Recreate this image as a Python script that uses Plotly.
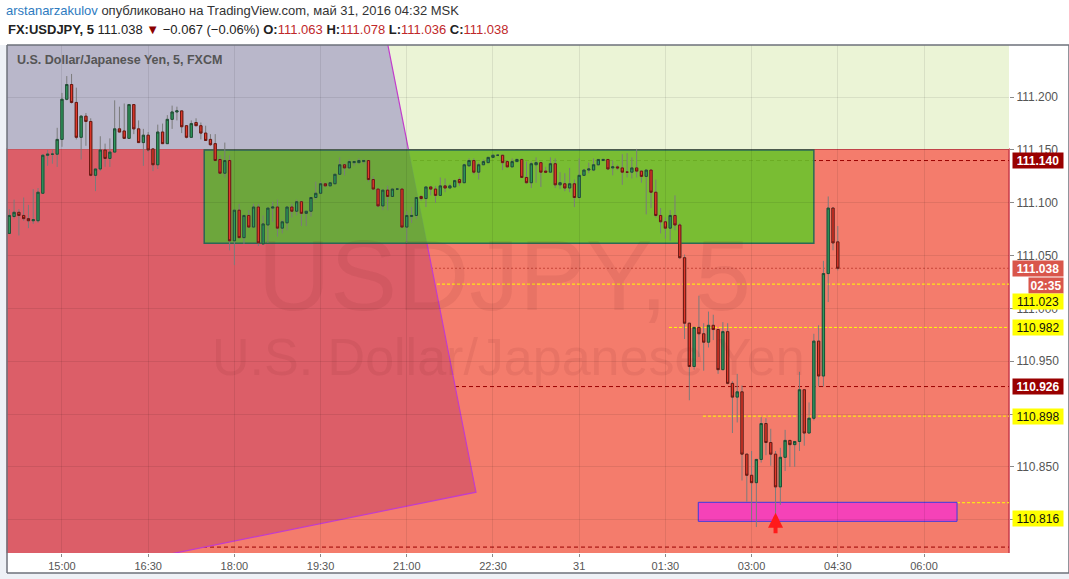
import plotly.graph_objects as go
import pandas as pd

# 5-minute bars, FX:USDJPY, 30 May 14:05 -> 31 May 04:30 (MSK)
start = pd.Timestamp("2016-05-30 14:05")
bar_minutes = 5

open_ = [111.071, 111.087, 111.091, 111.088, 111.085, 111.083, 111.083, 111.109, 111.145, 111.146,
         111.146, 111.160, 111.198, 111.212, 111.195, 111.162, 111.182, 111.177, 111.126, 111.132,
         111.150, 111.142, 111.148, 111.170, 111.168, 111.161, 111.193, 111.170, 111.157, 111.164,
         111.151, 111.136, 111.167, 111.156, 111.179, 111.186, 111.187, 111.173, 111.162, 111.176,
         111.173, 111.166, 111.160, 111.156, 111.141, 111.128, 111.140, 111.064, 111.093, 111.067,
         111.088, 111.077, 111.096, 111.061, 111.079, 111.095, 111.096, 111.076, 111.081, 111.096,
         111.092, 111.101, 111.090, 111.092, 111.105, 111.109, 111.118, 111.116, 111.118, 111.127,
         111.136, 111.133, 111.138, 111.138, 111.139, 111.140, 111.122, 111.113, 111.097, 111.112,
         111.106, 111.113, 111.113, 111.077, 111.087, 111.088, 111.106, 111.104, 111.115, 111.113,
         111.107, 111.116, 111.114, 111.115, 111.122, 111.119, 111.135, 111.140, 111.129, 111.136,
         111.138, 111.143, 111.145, 111.145, 111.139, 111.134, 111.139, 111.141, 111.124, 111.119,
         111.136, 111.138, 111.130, 111.129, 111.137, 111.117, 111.118, 111.114, 111.118, 111.105,
         111.126, 111.131, 111.131, 111.136, 111.140, 111.141, 111.133, 111.134, 111.133, 111.129,
         111.129, 111.133, 111.130, 111.125, 111.131, 111.110, 111.088, 111.082, 111.076, 111.088,
         111.079, 111.048, 110.986, 110.945, 110.982, 110.976, 110.968, 110.984, 110.980, 110.942,
         110.978, 110.929, 110.916, 110.921, 110.862, 110.842, 110.835, 110.857, 110.891, 110.873,
         110.862, 110.831, 110.859, 110.875, 110.871, 110.874, 110.923, 110.882, 110.896, 110.969,
         110.936, 111.033, 111.095, 111.063]
high = [111.094, 111.103, 111.094, 111.105, 111.098, 111.113, 111.114, 111.146, 111.150, 111.150,
        111.171, 111.204, 111.220, 111.222, 111.209, 111.183, 111.185, 111.180, 111.132, 111.163,
        111.156, 111.161, 111.197, 111.191, 111.194, 111.193, 111.193, 111.178, 111.170, 111.167,
        111.151, 111.174, 111.175, 111.183, 111.192, 111.191, 111.187, 111.173, 111.178, 111.180,
        111.176, 111.173, 111.165, 111.165, 111.145, 111.157, 111.145, 111.093, 111.099, 111.088,
        111.093, 111.099, 111.099, 111.088, 111.095, 111.101, 111.103, 111.084, 111.096, 111.099,
        111.103, 111.101, 111.092, 111.105, 111.120, 111.120, 111.119, 111.120, 111.127, 111.143,
        111.137, 111.141, 111.140, 111.142, 111.141, 111.140, 111.125, 111.113, 111.112, 111.116,
        111.113, 111.113, 111.113, 111.092, 111.096, 111.105, 111.107, 111.115, 111.116, 111.116,
        111.124, 111.123, 111.118, 111.122, 111.124, 111.137, 111.142, 111.142, 111.138, 111.141,
        111.143, 111.146, 111.146, 111.145, 111.140, 111.142, 111.142, 111.142, 111.139, 111.139,
        111.143, 111.138, 111.134, 111.143, 111.142, 111.129, 111.128, 111.133, 111.122, 111.142,
        111.132, 111.138, 111.142, 111.141, 111.142, 111.141, 111.140, 111.136, 111.146, 111.147,
        111.143, 111.151, 111.130, 111.131, 111.131, 111.122, 111.095, 111.086, 111.093, 111.107,
        111.081, 111.051, 110.986, 110.982, 111.012, 110.986, 110.997, 110.994, 110.980, 110.987,
        110.986, 110.931, 110.938, 110.927, 110.862, 110.865, 110.857, 110.897, 110.896, 110.886,
        110.865, 110.868, 110.885, 110.875, 110.874, 110.940, 110.923, 110.911, 110.976, 110.984,
        111.045, 111.106, 111.096, 111.078]
low = [111.071, 111.085, 111.069, 111.083, 111.076, 111.080, 111.081, 111.109, 111.135, 111.137,
       111.134, 111.153, 111.197, 111.194, 111.160, 111.141, 111.154, 111.125, 111.111, 111.130,
       111.134, 111.134, 111.148, 111.167, 111.161, 111.161, 111.165, 111.157, 111.135, 111.148,
       111.130, 111.132, 111.156, 111.156, 111.170, 111.178, 111.166, 111.161, 111.162, 111.173,
       111.160, 111.159, 111.154, 111.140, 111.128, 111.124, 111.055, 111.041, 111.067, 111.061,
       111.077, 111.077, 111.059, 111.061, 111.062, 111.082, 111.068, 111.071, 111.074, 111.086,
       111.088, 111.078, 111.078, 111.087, 111.103, 111.109, 111.115, 111.116, 111.118, 111.127,
       111.126, 111.133, 111.135, 111.137, 111.137, 111.120, 111.112, 111.096, 111.093, 111.093,
       111.106, 111.112, 111.077, 111.062, 111.081, 111.085, 111.102, 111.096, 111.107, 111.100,
       111.107, 111.110, 111.114, 111.115, 111.116, 111.119, 111.134, 111.127, 111.122, 111.136,
       111.138, 111.143, 111.144, 111.131, 111.134, 111.134, 111.139, 111.124, 111.118, 111.114,
       111.119, 111.115, 111.128, 111.129, 111.114, 111.113, 111.111, 111.110, 111.096, 111.104,
       111.126, 111.128, 111.130, 111.135, 111.140, 111.131, 111.126, 111.131, 111.117, 111.124,
       111.123, 111.124, 111.119, 111.089, 111.095, 111.086, 111.071, 111.066, 111.064, 111.074,
       111.047, 110.971, 110.913, 110.942, 110.954, 110.941, 110.963, 110.970, 110.938, 110.942,
       110.928, 110.882, 110.892, 110.837, 110.817, 110.799, 110.793, 110.854, 110.861, 110.851,
       110.800, 110.814, 110.846, 110.850, 110.850, 110.865, 110.870, 110.882, 110.894, 110.926,
       110.926, 111.006, 111.055, 111.036]
close = [111.088, 111.091, 111.088, 111.085, 111.083, 111.084, 111.110, 111.145, 111.146, 111.146,
         111.160, 111.198, 111.212, 111.195, 111.162, 111.182, 111.177, 111.126, 111.132, 111.150,
         111.142, 111.148, 111.170, 111.167, 111.161, 111.193, 111.170, 111.157, 111.164, 111.150,
         111.136, 111.167, 111.156, 111.179, 111.186, 111.187, 111.172, 111.162, 111.175, 111.173,
         111.166, 111.159, 111.155, 111.140, 111.128, 111.140, 111.064, 111.093, 111.067, 111.088,
         111.077, 111.096, 111.062, 111.080, 111.095, 111.096, 111.076, 111.082, 111.096, 111.092,
         111.101, 111.090, 111.092, 111.105, 111.109, 111.118, 111.116, 111.119, 111.127, 111.136,
         111.133, 111.139, 111.139, 111.140, 111.140, 111.122, 111.113, 111.097, 111.112, 111.106,
         111.113, 111.113, 111.077, 111.088, 111.088, 111.105, 111.104, 111.115, 111.113, 111.107,
         111.116, 111.114, 111.116, 111.121, 111.119, 111.136, 111.140, 111.129, 111.136, 111.139,
         111.143, 111.145, 111.145, 111.138, 111.134, 111.139, 111.141, 111.124, 111.119, 111.137,
         111.138, 111.129, 111.129, 111.137, 111.117, 111.119, 111.114, 111.118, 111.105, 111.126,
         111.131, 111.132, 111.136, 111.141, 111.141, 111.132, 111.134, 111.133, 111.129, 111.129,
         111.133, 111.130, 111.125, 111.131, 111.110, 111.088, 111.082, 111.076, 111.088, 111.079,
         111.048, 110.986, 110.945, 110.982, 110.976, 110.968, 110.984, 110.980, 110.942, 110.978,
         110.929, 110.916, 110.921, 110.862, 110.842, 110.835, 110.857, 110.891, 110.873, 110.862,
         110.831, 110.859, 110.875, 110.871, 110.874, 110.923, 110.882, 110.896, 110.969, 110.936,
         111.033, 111.095, 111.062, 111.038]

# horizontal levels drawn on the chart
red_levels = [111.140, 110.926, 110.774]
yellow_levels = [111.023, 110.982, 110.898, 110.816]
last_price = 111.038
countdown = "02:35"

n = len(close)
x = list(range(n))

# x ticks every 90 minutes
tick_idx = list(range(11, 200, 18))
tick_txt = []
for k in tick_idx:
    t = start + pd.Timedelta(minutes=bar_minutes * k)
    tick_txt.append("31" if (t.hour == 0 and t.minute == 0) else t.strftime("%H:%M"))

y_ticks = [round(110.80 + 0.05 * i, 2) for i in range(9)]

XR = [-0.48, 208.75]
YR = [110.7684, 111.2494]
SPLIT = 111.151

fig = go.Figure()

# wicks (grey)
fig.add_trace(go.Candlestick(
    x=x, open=open_, high=high, low=low, close=close,
    increasing=dict(line=dict(color="#7b7b7b", width=1), fillcolor="#7b7b7b"),
    decreasing=dict(line=dict(color="#7b7b7b", width=1), fillcolor="#7b7b7b"),
    whiskerwidth=0, hoverinfo="skip", showlegend=False,
))
# bodies with dark borders
body_hi = [max(o, c) for o, c in zip(open_, close)]
body_lo = [min(o, c) for o, c in zip(open_, close)]
fig.add_trace(go.Candlestick(
    x=x, open=open_, high=body_hi, low=body_lo, close=close,
    increasing=dict(line=dict(color="#1f4d34", width=1), fillcolor="#2f9a5d"),
    decreasing=dict(line=dict(color="#6b1710", width=1), fillcolor="#e2392b"),
    whiskerwidth=0, showlegend=False,
))

# ---- drawings ----
p_top = (77.2, 111.292)
p_mid = (97.45, 110.826)
p_bot = (-5.0, 110.732)


def xd(p):
    return p_top[0] + (p_mid[0] - p_top[0]) * (p_top[1] - p) / (p_top[1] - p_mid[1])


def path(pts):
    return "M " + " L ".join(f"{a},{b}" for a, b in pts) + " Z"


green_box = (40.7, 168.0, 111.0616, 111.150)
pink_box = (143.87, 197.9, 110.7984, 110.8164)

shapes = []
# background zones
shapes.append(dict(type="rect", xref="paper", yref="y", x0=0, x1=1, y0=YR[0] - 0.1, y1=SPLIT,
                   fillcolor="#f47c6c", line=dict(color="#c83a48", width=1.5), layer="below"))
shapes.append(dict(type="rect", xref="paper", yref="y", x0=0, x1=1, y0=SPLIT, y1=YR[1] + 0.1,
                   fillcolor="#ebf4d6", line=dict(width=0), layer="below"))
# left polygon, split at the zone boundary
shapes.append(dict(type="path", xref="x", yref="y", layer="below",
                   path=path([(-5, p_top[1]), p_top, (xd(SPLIT), SPLIT), (-5, SPLIT)]),
                   fillcolor="#b9b7ca", line=dict(width=0)))
shapes.append(dict(type="path", xref="x", yref="y", layer="below",
                   path=path([(-5, SPLIT), (xd(SPLIT), SPLIT), p_mid, p_bot]),
                   fillcolor="#dc5e68", line=dict(width=0)))
shapes.append(dict(type="path", xref="x", yref="y", layer="below",
                   path="M {},{} L {},{} L {},{}".format(p_top[0], p_top[1], p_mid[0], p_mid[1], p_bot[0], p_bot[1]),
                   line=dict(color="#c23ccc", width=1.2)))

# horizontal levels
for v in red_levels:
    shapes.append(dict(type="line", xref="paper", yref="y", x0=0, x1=1, y0=v, y1=v, layer="below",
                       line=dict(color="#9a0000", width=1, dash="4px,3px")))
shapes.append(dict(type="line", xref="paper", yref="y", x0=0, x1=1, y0=last_price, y1=last_price,
                   layer="below", line=dict(color="#c8453a", width=1, dash="2px,2px")))
y_starts = [None, 137.75, 144.85, pink_box[1]]
for v, s in zip(yellow_levels, y_starts):
    if s is None:
        shapes.append(dict(type="line", xref="paper", yref="y", x0=0, x1=1, y0=v, y1=v, layer="below",
                           line=dict(color="#ffff00", width=1, dash="3px,2px")))
    else:
        shapes.append(dict(type="line", xref="x", yref="y", x0=s, x1=XR[1] + 5, y0=v, y1=v, layer="below",
                           line=dict(color="#ffff00", width=1, dash="3px,2px")))

# green range box (semi-transparent)
shapes.append(dict(type="rect", xref="x", yref="y", layer="below",
                   x0=green_box[0], x1=green_box[1], y0=green_box[2], y1=green_box[3],
                   fillcolor="rgba(100,200,42,0.86)", line=dict(color="#2a6b55", width=1.5)))
shapes.append(dict(type="path", xref="x", yref="y", layer="below",
                   path=path([(green_box[0], green_box[3]), (xd(green_box[3]), green_box[3]),
                              (xd(green_box[2]), green_box[2]), (green_box[0], green_box[2])]),
                   fillcolor="rgba(60,40,120,0.13)", line=dict(width=0)))
# pink target box
shapes.append(dict(type="rect", xref="x", yref="y", layer="below",
                   x0=pink_box[0], x1=pink_box[1], y0=pink_box[2], y1=pink_box[3],
                   fillcolor="#f542b8", line=dict(color="#3b3be0", width=1)))

# outer page strips and chart frame (paper coords)
fx0, fx1 = -7 / 1002, 1062 / 1002
fy0 = -20 / 508
shapes.append(dict(type="rect", xref="paper", yref="paper", x0=-8 / 1002, x1=-0.5 / 1002, y0=-27 / 508, y1=1,
                   fillcolor="#eef1f6", line=dict(width=0), layer="above"))
shapes.append(dict(type="rect", xref="paper", yref="paper", x0=-8 / 1002, x1=1.07, y0=-27 / 508, y1=fy0,
                   fillcolor="#eef1f6", line=dict(width=0), layer="above"))
for seg in [(0, fy0, fx1, fy0), (0, 1, fx1, 1), (0, fy0, 0, 1), (fx1, fy0, fx1, 1)]:
    shapes.append(dict(type="line", xref="paper", yref="paper", x0=seg[0], y0=seg[1], x1=seg[2], y1=seg[3],
                       line=dict(color="#6d707a", width=1.5), layer="above"))

ann = []
# watermark
ann.append(dict(xref="paper", yref="paper", x=0.497, y=0.548, text="USDJPY, 5", showarrow=False,
                font=dict(family="Liberation Sans, Arial", size=100, color="rgba(110,30,30,0.09)")))
ann.append(dict(xref="paper", yref="paper", x=0.5, y=0.385, text="U.S. Dollar/Japanese Yen", showarrow=False,
                font=dict(family="Liberation Sans, Arial", size=52, color="rgba(110,30,30,0.09)")))
# chart title
ann.append(dict(xref="paper", yref="paper", x=0, y=1, xanchor="left", yanchor="middle", xshift=8, yshift=-15,
                text="<b>U.S. Dollar/Japanese Yen, 5, FXCM</b>", showarrow=False,
                font=dict(family="Liberation Sans, Arial", size=12.5, color="#555555")))
# header
ann.append(dict(xref="paper", yref="paper", x=0, y=1, xanchor="left", yanchor="middle", xshift=-3, yshift=35,
                text="<span style='color:#2e7bbf'>arstanarzakulov</span> опубликовано на TradingView.com, май 31, 2016 04:32 MSK",
                showarrow=False, font=dict(family="Liberation Sans, Arial", size=13, color="#333333")))
red = "#c0282a"
ann.append(dict(xref="paper", yref="paper", x=0, y=1, xanchor="left", yanchor="middle", xshift=-1, yshift=16,
                text=("<b>FX:USDJPY, 5</b> 111.038 <span style='color:#8b0000'>▼</span> −0.067 (−0.06%) "
                      f"<b>O:</b><span style='color:{red}'>111.063</span> <b>H:</b><span style='color:{red}'>111.078</span> "
                      f"<b>L:</b><span style='color:{red}'>111.036</span> <b>C:</b><span style='color:{red}'>111.038</span>"),
                showarrow=False, font=dict(family="Liberation Sans, Arial", size=13, color="#222222")))


# price labels on the axis
def price_label(v, text, bg, fg, bold=True, shift=0, w=48, xs=3):
    t = f"<b>{text}</b>" if bold else text
    return dict(xref="paper", yref="y", x=1, y=v, xanchor="left", yanchor="middle", xshift=xs, yshift=shift,
                text=t, showarrow=False, bgcolor=bg, width=w, height=13, borderpad=1, align="center",
                font=dict(family="Liberation Sans, Arial", size=12, color=fg))


ann.append(price_label(red_levels[0], f"{red_levels[0]:.3f}", "#990000", "white"))
ann.append(price_label(red_levels[1], f"{red_levels[1]:.3f}", "#990000", "white"))
ann.append(price_label(last_price, f"{last_price:.3f}", "#d9564b", "white"))
ann.append(price_label(last_price, countdown, "#d9564b", "white", shift=-17, w=32, xs=19))
ann.append(price_label(yellow_levels[0], f"{yellow_levels[0]:.3f}", "#ffff00", "#111111", bold=False, shift=-17))
ann.append(price_label(yellow_levels[1], f"{yellow_levels[1]:.3f}", "#ffff00", "#111111", bold=False))
ann.append(price_label(yellow_levels[2], f"{yellow_levels[2]:.3f}", "#ffff00", "#111111", bold=False))
ann.append(price_label(yellow_levels[3], f"{yellow_levels[3]:.3f}", "#ffff00", "#111111", bold=False, shift=-16))

# red arrow under the low
ann.append(dict(xref="x", yref="y", x=160, y=110.8065, ax=0, ay=22, text="", showarrow=True,
                arrowhead=2, arrowsize=0.75, arrowwidth=4, arrowcolor="#ff1a1a"))

fig.update_layout(
    width=1069, height=579, autosize=False,
    margin=dict(l=7, r=60, t=45, b=26),
    paper_bgcolor="white", plot_bgcolor="#f47c6c",
    boxgap=0.32,
    shapes=shapes, annotations=ann,
    showlegend=False,
    font=dict(family="Liberation Sans, Arial", color="#555555"),
    xaxis=dict(range=XR, tickmode="array", tickvals=tick_idx, ticktext=tick_txt,
               showgrid=True, gridcolor="rgba(0,0,0,0.08)", gridwidth=1, zeroline=False,
               ticks="outside", ticklen=3, tickcolor="#8a8a8a", tickfont=dict(size=11, color="#555555"),
               rangeslider=dict(visible=False), showline=False, fixedrange=True),
    yaxis=dict(range=YR, side="right", tickmode="array", tickvals=y_ticks,
               ticktext=[f"{v:.3f}" for v in y_ticks],
               showgrid=True, gridcolor="rgba(0,0,0,0.08)", zeroline=False,
               ticks="outside", ticklen=4, tickcolor="#8a8a8a", tickfont=dict(size=12, color="#555555"),
               showline=False, fixedrange=True),
)

# page has a default body margin; remove it so the figure sits at the window's corner
fig.write_html("out.html", config={"displayModeBar": False},
               post_script="document.body.style.margin='0';document.body.style.overflow='hidden';")
